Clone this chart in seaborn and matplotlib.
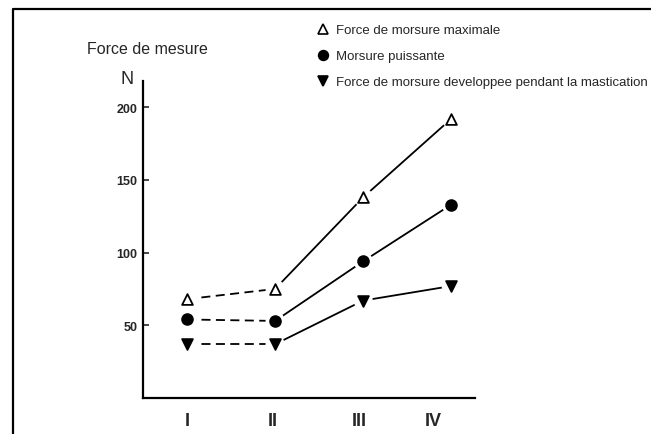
import pandas as pd
import matplotlib.pyplot as plt
import seaborn as sns
from matplotlib.lines import Line2D

# Values
stages = ['I', 'II', 'III', 'IV']
stage_pos = [0, 1, 2, 3]
max_force = [68, 75, 138, 192]
strong_bite = [54, 53, 94, 133]
chewing_force = [37, 37, 67, 77]
series_labels = [
    'Force de morsure maximale',
    'Morsure puissante',
    'Force de morsure developpee pendant la mastication',
]
series_markers = ['^', 'o', 'v']
series_fill = ['white', 'black', 'black']

sns.set_style("ticks")
plt.rcParams['font.family'] = ['Liberation Sans', 'DejaVu Sans']

fig = plt.figure(figsize=(6.51, 4.35), dpi=100)
ax = fig.add_axes([143 / 651, 1 - 399 / 435, (475 - 143) / 651, (399 - 82) / 435])

handles = []
for values, mk, fc in zip([max_force, strong_bite, chewing_force], series_markers, series_fill):
    df = pd.DataFrame({'x': stage_pos, 'y': values})
    # first interval dashed, the rest solid
    sns.lineplot(data=df.iloc[:2], x='x', y='y', ax=ax, color='black',
                 linewidth=1.3, linestyle=(0, (5, 3)))
    sns.lineplot(data=df.iloc[1:], x='x', y='y', ax=ax, color='black',
                 linewidth=1.3)
    # white halo so the lines stop a little short of the markers
    sns.scatterplot(data=df, x='x', y='y', ax=ax, marker='o', s=190,
                    color='white', edgecolor='none', zorder=2.5)
    sns.scatterplot(data=df, x='x', y='y', ax=ax, marker=mk, s=60,
                    color=fc, edgecolor='black', linewidth=1.3, zorder=3)
    handles.append(Line2D([], [], linestyle='none', marker=mk, markersize=7,
                          markerfacecolor=fc, markeredgecolor='black',
                          markeredgewidth=1.2))

ax.set_xlim(-0.5, 3.27)
ax.set_ylim(0, 218)
ax.set_xlabel('')
ax.set_ylabel('')

ax.set_yticks([50, 100, 150, 200])
ax.tick_params(axis='y', direction='in', length=4, width=1.2, labelsize=9, pad=4)
for t in ax.get_yticklabels():
    t.set_fontweight('bold')

ax.set_xticks([0, 0.97, 1.95, 2.8])
ax.set_xticklabels(stages, fontsize=13, fontweight='bold')
ax.tick_params(axis='x', length=0, pad=10)

for side in ['top', 'right']:
    ax.spines[side].set_visible(False)
for side in ['left', 'bottom']:
    ax.spines[side].set_linewidth(1.6)
    ax.spines[side].set_color('black')

fig.text(87 / 651, 1 - 50 / 435, 'Force de mesure', fontsize=11.5, va='center', ha='left')
fig.text(127 / 651, 1 - 79 / 435, 'N', fontsize=13, va='center', ha='center')

fig.legend(handles, series_labels, loc='upper left',
           bbox_to_anchor=(318 / 651, 1 - 25 / 435), frameon=False,
           handlelength=0.8, handletextpad=0.6,
           labelspacing=1.05, borderaxespad=0, borderpad=0,
           prop={'family': ['Liberation Sans', 'DejaVu Sans'], 'size': 9.5})

# outer frame (left and top edges)
fig.add_artist(Line2D([13 / 651, 13 / 651, 1.0], [0.0, 1 - 10 / 435, 1 - 10 / 435],
                      transform=fig.transFigure, color='black', linewidth=1.6))

fig.savefig('out.png', dpi=100)
